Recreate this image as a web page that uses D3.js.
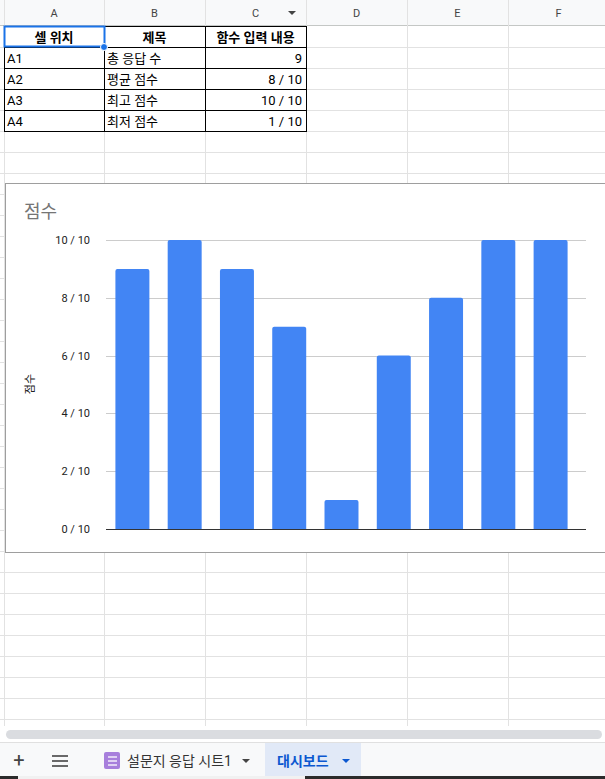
<!DOCTYPE html><html><head><meta charset="utf-8"><script src="https://cdn.jsdelivr.net/npm/d3@7"></script>
<style>body{margin:0;overflow:hidden;background:#fff}text{font-family:Roboto,"Noto Sans CJK KR",sans-serif}</style></head><body>
<svg id="s" width="605" height="779"></svg>
<script>
const colLetters=["A","B","C","D","E","F"];
const tableHeader=["셀 위치","제목","함수 입력 내용"];
const tableCells=["A1","A2","A3","A4"];
const tableTitles=["총 응답 수","평균 점수","최고 점수","최저 점수"];
const tableValues=["9","8 / 10","10 / 10","1 / 10"];
const scores=[9,10,9,7,1,6,8,10,10];
const yTicks=[0,2,4,6,8,10];
const svg=d3.select("#s");
const colX=[4,104,205,306,407,508,609];
// grid
const g=svg.append("g");
g.append("rect").attr("width",605).attr("height",26).attr("fill","#f8f9fa");
for(let y=47;y<730;y+=21) g.append("line").attr("x1",0).attr("x2",605).attr("y1",y+0.5).attr("y2",y+0.5).attr("stroke","#e2e2e2");
g.append("line").attr("x1",0).attr("x2",605).attr("y1",25.5).attr("y2",25.5).attr("stroke","#c4c7c5");
colX.forEach(x=>g.append("line").attr("x1",x+0.5).attr("x2",x+0.5).attr("y1",0).attr("y2",730).attr("stroke","#e2e2e2"));
colLetters.forEach((c,i)=>g.append("text").attr("x",(colX[i]+colX[i+1])/2).attr("y",17).attr("text-anchor","middle").attr("font-size",11).attr("fill","#444").text(c));
g.append("path").attr("d","M288,11l4,4l4,-4z").attr("fill","#444");
// table
const rowY=[26,47,68,89,110,131];
for(let r=0;r<5;r++)for(let c=0;c<3;c++)g.append("rect").attr("x",colX[c]+0.5).attr("y",rowY[r]+0.5).attr("width",colX[c+1]-colX[c]).attr("height",21).attr("fill","none").attr("stroke","#000");
tableHeader.forEach((t,i)=>g.append("text").attr("x",(colX[i]+colX[i+1])/2).attr("y",42).attr("text-anchor","middle").attr("font-size",13).attr("font-weight","bold").text(t));
tableCells.forEach((t,i)=>{
 const y=rowY[i+1]+16;
 g.append("text").attr("x",7).attr("y",y).attr("font-size",13).text(t);
 g.append("text").attr("x",107).attr("y",y).attr("font-size",13).text(tableTitles[i]);
 g.append("text").attr("x",302).attr("y",y).attr("text-anchor","end").attr("font-size",13).text(tableValues[i]);
});
g.append("rect").attr("x",4.5).attr("y",26.5).attr("width",100).attr("height",20).attr("fill","none").attr("stroke","#1a73e8").attr("stroke-width",2);
g.append("circle").attr("cx",104).attr("cy",47).attr("r",3.5).attr("fill","#1a73e8").attr("stroke","#fff");
// chart
const c=svg.append("g");
c.append("rect").attr("x",5.5).attr("y",183.5).attr("width",605).attr("height",369).attr("fill","#fff").attr("stroke","#9e9e9e");
c.append("text").attr("x",24).attr("y",218).attr("font-size",18).attr("fill","#757575").text("점수");
c.append("text").attr("transform","translate(34,384) rotate(-90)").attr("text-anchor","middle").attr("font-size",11).attr("fill","#222").text("점수");
const y=d3.scaleLinear().domain([0,10]).range([529,240]);
const x=d3.scaleBand().domain(d3.range(scores.length)).range([106,577]).paddingInner(0.35).paddingOuter(0.18);
yTicks.forEach(t=>{
 c.append("line").attr("x1",106).attr("x2",586).attr("y1",Math.round(y(t))+0.5).attr("y2",Math.round(y(t))+0.5).attr("stroke",t===0?"#333":"#ccc");
 c.append("text").attr("x",90).attr("y",y(t)+4).attr("text-anchor","end").attr("font-size",11).attr("fill","#222").text(t+" / 10");
});
c.selectAll(".b").data(scores).join("path").attr("fill","#4285f4")
 .attr("d",(d,i)=>{const x0=x(i),w=x.bandwidth(),y0=y(d),r=2;return `M${x0},529V${y0+r}Q${x0},${y0} ${x0+r},${y0}H${x0+w-r}Q${x0+w},${y0} ${x0+w},${y0+r}V529Z`;});
// scrollbar and tabs
svg.append("rect").attr("x",0).attr("y",726).attr("width",605).attr("height",16).attr("fill","#fff");
svg.append("rect").attr("x",6).attr("y",730).attr("width",596).attr("height",9).attr("rx",4.5).attr("fill","#dadce0");
svg.append("rect").attr("x",0).attr("y",742).attr("width",605).attr("height",37).attr("fill","#f8f9fa");
svg.append("line").attr("x1",0).attr("x2",605).attr("y1",742.5).attr("y2",742.5).attr("stroke","#e0e0e0");
svg.append("rect").attr("x",265).attr("y",743).attr("width",96).attr("height",36).attr("fill","#e1e9f7");
svg.append("text").attr("x",19).attr("y",767).attr("text-anchor","middle").attr("font-size",20).attr("fill","#444").text("+");
[756,761,766].forEach(yy=>svg.append("line").attr("x1",52).attr("x2",68).attr("y1",yy).attr("y2",yy).attr("stroke","#444").attr("stroke-width",1.6));
svg.append("rect").attr("x",104).attr("y",752).attr("width",16).attr("height",17).attr("rx",2).attr("fill","#a77fdc");
[757,761,765].forEach(yy=>svg.append("line").attr("x1",108).attr("x2",117).attr("y1",yy).attr("y2",yy).attr("stroke","#fff").attr("stroke-width",1.3));
svg.append("text").attr("x",127).attr("y",766).attr("font-size",14).attr("fill","#333").text("설문지 응답 시트1");
svg.append("path").attr("d","M242,759l4,4l4,-4z").attr("fill","#444");
svg.append("text").attr("x",277).attr("y",766).attr("font-size",14).attr("font-weight","bold").attr("fill","#0b57d0").text("대시보드");
svg.append("path").attr("d","M342,759l4,4l4,-4z").attr("fill","#0b57d0");
svg.append("rect").attr("x",0).attr("y",776).attr("width",605).attr("height",3).attr("fill","#2b2b2b");
svg.append("rect").attr("x",18).attr("y",776).attr("width",287).attr("height",3).attr("fill","#f1f1f1");
</script></body></html>
